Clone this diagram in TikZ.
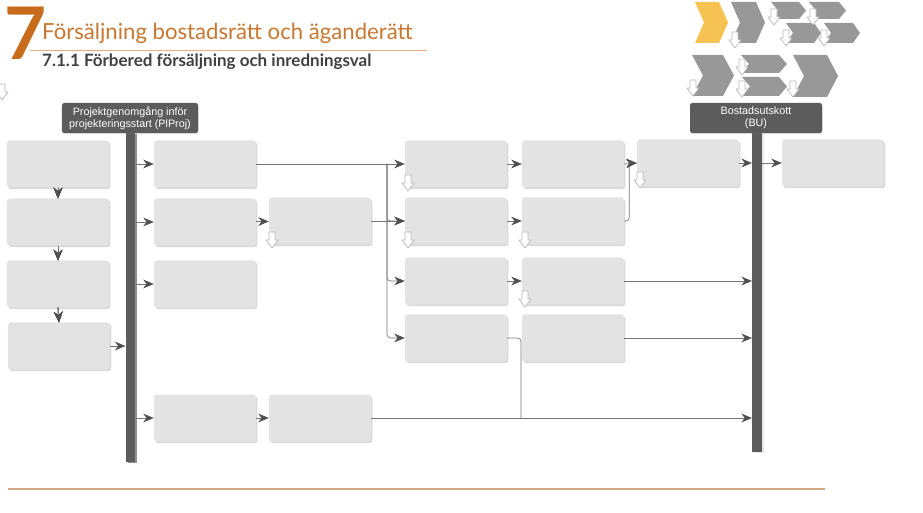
\documentclass[tikz,border=0pt]{standalone}
\usepackage{fontspec}
\setmainfont{Lato}
\newfontfamily\gatefont{Liberation Sans}
\usetikzlibrary{arrows.meta,shadows}
\definecolor{TitleOrange}{RGB}{200,118,48}
\definecolor{SevenOrange}{RGB}{199,108,28}
\definecolor{RuleOrange}{RGB}{230,176,132}
\definecolor{SubGray}{RGB}{64,64,64}
\definecolor{BoxGray}{RGB}{227,227,227}
\definecolor{GateGray}{RGB}{92,92,92}
\definecolor{LineGray}{RGB}{118,118,118}
\definecolor{HeadGray}{RGB}{80,80,80}
\definecolor{ChevGray}{RGB}{152,152,152}
\definecolor{ChevYellow}{RGB}{246,194,82}
\tikzset{
  task/.style={fill=BoxGray, rounded corners=2.5pt, minimum width=3.06cm, minimum height=1.41cm, inner sep=0pt,
    drop shadow={shadow xshift=1.2pt, shadow yshift=-1.4pt, opacity=0.3, fill=gray}},
  gate/.style={fill=GateGray, text=white, rounded corners=2pt, minimum height=0.9cm, inner sep=1pt, align=center,
    font=\gatefont\fontsize{9.2}{10.5}\selectfont, drop shadow={shadow xshift=0.6pt, shadow yshift=-1pt, opacity=0.3, fill=gray}},
  gatebar/.style={fill=GateGray, minimum width=0.29cm, inner sep=0pt,
    drop shadow={shadow xshift=1.8pt, shadow yshift=-1.2pt, opacity=0.2, fill=gray}},
  flow/.style={-{Stealth[length=9pt,width=7.5pt,color=HeadGray]}, line width=0.6pt, LineGray, rounded corners=3pt},
  link/.style={line width=0.6pt, LineGray, rounded corners=3pt},
  hint/.style={fill=white, draw=gray!55, line width=0.6pt, line join=round},
}
% small white down arrow, top centre at (#1,#2)
\newcommand{\hintarrow}[2]{\draw[hint] (#1-3,#2) -- ++(6,0) -- ++(0,8) -- ++(3,0) -- ++(-6,8) -- ++(-6,-8) -- ++(3,0) -- cycle;}
% chevron: x, y, width, height, notch, colour
\newcommand{\chevshape}[6]{\fill[#6] (#1,#2) -- (#1+#3-#5,#2) -- (#1+#3,#2+#4/2) -- (#1+#3-#5,#2+#4) -- (#1,#2+#4) -- (#1+#5,#2+#4/2) -- cycle;}
\begin{document}
\begin{tikzpicture}[x=0.03cm, y=-0.03cm]
  \useasboundingbox (0,0) rectangle (923,513);
  % heading
  \draw[RuleOrange, line width=0.8pt] (30,50) -- (427,50);
  \node[anchor=base west, inner sep=0pt, text=SevenOrange, font=\bfseries\fontsize{62}{62}\selectfont] (seven) at (4,60) {7};
  \node[anchor=base west, inner sep=0pt, text=TitleOrange, font=\fontsize{18.9}{22}\selectfont] (title) at (42,40) {Försäljning bostadsrätt och äganderätt};
  \node[anchor=base west, inner sep=0pt, text=SubGray, font=\bfseries\fontsize{14.5}{16}\selectfont] (subtitle) at (42,67) {7.1.1 Förbered försäljning och inredningsval};
  \hintarrow{2}{84}
  % process map
  \chevshape{695}{2}{33}{41}{9}{ChevYellow}
  \chevshape{731}{2}{34}{41}{9}{ChevGray}
  \chevshape{771}{2}{35}{17}{7}{ChevGray}
  \chevshape{809}{2}{37}{17}{7}{ChevGray}
  \chevshape{786}{23}{35}{20}{7}{ChevGray}
  \chevshape{824}{23}{36}{20}{7}{ChevGray}
  \chevshape{692}{55}{42}{41}{11}{ChevGray}
  \chevshape{741}{55}{46}{18}{8}{ChevGray}
  \chevshape{742}{77}{45}{19}{8}{ChevGray}
  \chevshape{793}{55}{45}{42}{11}{ChevGray}
  \foreach \x/\y in {774/9, 813/9, 735/32, 786/30, 824/30, 693/80, 742/59, 742/81, 793/81}
    \hintarrow{\x}{\y}
  % gates
  \node[gatebar, minimum height=9.87cm] (barL) at (130.5,297.5) {};
  \node[gatebar, minimum height=9.57cm] (barR) at (757,292.5) {};
  \node[gate, minimum width=4.08cm] (plproj) at (130,118) {Projektgenomgång inför\\projekteringsstart (PlProj)};
  \node[gate, minimum width=3.96cm] (bu) at (756,118) {Bostadsutskott\\(BU)};
  % activities
  \foreach \n/\x/\y in {A1/58/164, A2/58/222, A3/58/284, A4/59/346,
      B1/205/164, B2/205/222, B3/205/284, B5/205/418, C2/320/221, C5/320/418,
      D1/456/164, D2/456/221, D3/456/281, D4/456/338,
      E1/573/164, E2/573/221, E3/573/281, E4/573/338,
      F1/688/163, G1/833/163}
    \node[task] (\n) at (\x,\y) {};
  \foreach \x/\y in {272/232, 408/175, 408/232, 525/232, 525/291, 640/172}
    \hintarrow{\x}{\y}
  % connectors
  \foreach \a/\b in {A1/A2, A2/A3, A3/A4}
    \draw[flow] (\a.south) -- (\b.north);
  \draw[flow] (A4.east) -- (A4.east -| barL.west);
  \foreach \n in {B1, B2, B3, B5}
    \draw[flow] (\n.west -| barL.east) -- (\n.west);
  \draw[flow] (B2) -- (C2);
  \draw[flow] (B5) -- (C5);
  \coordinate (split) at (387,164);
  \draw[flow] (B1.east) -- (D1.west);
  \foreach \n in {D2, D3, D4}
    \draw[flow] (split) |- (\n.west);
  \draw[flow] (C2.east) -- (D2.west);
  \foreach \i in {1, 2, 3}
    \draw[flow] (D\i) -- (E\i);
  \draw[flow] (E1.east) -- (F1.west);
  \draw[flow] (E2.east) -- ++(5,0) |- (F1.west);
  \draw[flow] (F1.east) -- (F1.east -| barR.west);
  \draw[flow] (G1.west -| barR.east) -- (G1.west);
  \foreach \n in {E3, E4, C5}
    \draw[flow] (\n.east) -- (\n.east -| barR.west);
  \coordinate (merge) at (521,418);
  \draw[link] (D4.east) -| (merge);
  % footer rule
  \draw[RuleOrange!80!gray, line width=1.2pt] (8,489) -- (825,489);
\end{tikzpicture}
\end{document}
